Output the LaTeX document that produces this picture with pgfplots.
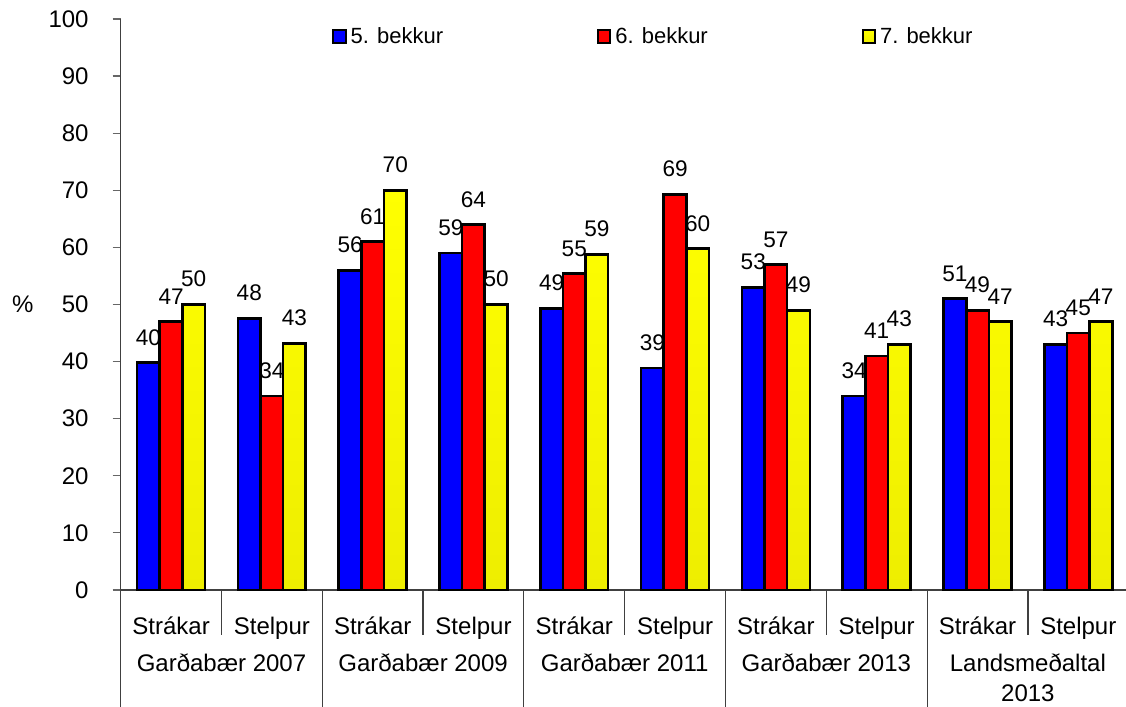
\documentclass[border=0pt]{standalone}
\usepackage{fontspec}
\setmainfont{Liberation Sans}
\usepackage{pgfplots}
\pgfplotsset{compat=1.18}
\definecolor{cblue}{RGB}{0,0,255}
\definecolor{cred}{RGB}{255,0,0}
\definecolor{cyel}{RGB}{255,255,0}
\definecolor{cyelb}{RGB}{238,238,0}
\begin{document}
\begin{tikzpicture}
\useasboundingbox (0,0) rectangle (563pt,353.5pt);
\begin{axis}[
 at={(60.35pt,58.5pt)}, anchor=south west,
 scale only axis, width=504pt, height=285.5pt,
 xmin=-0.5, xmax=9.5, ymin=0, ymax=100,
 axis x line*=bottom, axis y line*=left,
 axis line style={black!75, line width=0.6pt},
 ytick={0,10,...,100},
 ytick style={black!60, line width=0.6pt},
 tick align=outside, major tick length=4pt,
 xtick={0,...,9},
 xticklabels={Strákar,Stelpur,Strákar,Stelpur,Strákar,Stelpur,Strákar,Stelpur,Strákar,Stelpur},
 xtick style={draw=none},
 xticklabel style={anchor=base, yshift=-18.3pt, inner sep=0pt, font=\fontsize{12}{14}\selectfont},
 yticklabel style={anchor=east, inner sep=0pt, xshift=-11.85pt, font=\fontsize{12}{14}\selectfont},
 /pgf/number format/assume math mode=true,
 ybar=0pt, bar width=11.3pt,
 clip=false,
 nodes near coords={\pgfmathprintnumber[fixed,precision=0]{\pgfplotspointmeta}},
 every node near coord/.append style={anchor=base, yshift=8.75pt, inner sep=0pt, font=\fontsize{11.3}{13}\selectfont, black},
 legend columns=3,
 legend cell align=left,
 legend style={draw=none, fill=none, at={(rel axis cs:0.2096,0.969)}, anchor=west, inner sep=0pt, font=\fontsize{11}{13}\selectfont, /tikz/every even column/.append style={column sep=75pt}},
 legend image code/.code={\draw[#1, line width=0.9pt] (0pt,-3.2pt) rectangle (6.2pt,3.2pt);},
 ylabel={\%},
 every axis y label/.style={at={(rel axis cs:0,0.5)}, anchor=center, xshift=-49pt, font=\fontsize{12}{14}\selectfont},
]
\addplot[draw=black, line width=1.3pt, fill=cblue] coordinates {(0,39.8) (1,47.6) (2,56) (3,59) (4,49.3) (5,38.9) (6,53) (7,34) (8,51) (9,43)};
\addplot[draw=black, line width=1.3pt, fill=cred] coordinates {(0,47) (1,34) (2,61) (3,64) (4,55.4) (5,69.3) (6,57) (7,41) (8,49) (9,45)};
\addplot[draw=black, line width=1.3pt, top color=cyel, bottom color=cyelb] coordinates {(0,50) (1,43.2) (2,70) (3,50) (4,58.8) (5,59.8) (6,49) (7,43) (8,47) (9,47)};
\legend{5. bekkur,6. bekkur,7. bekkur}
\pgfplotsinvokeforeach{-0.5,1.5,3.5,5.5,7.5,9.5}{\draw[black!75, line width=0.6pt] (axis cs:#1,0) -- ([yshift=-58.5pt]axis cs:#1,0);}
\pgfplotsinvokeforeach{0.5,2.5,4.5,6.5,8.5}{\draw[black!75, line width=0.6pt] (axis cs:#1,0) -- ([yshift=-22.5pt]axis cs:#1,0);}
\node[anchor=base, inner sep=0pt, font=\fontsize{12}{14}\selectfont, yshift=-40.8pt] at (axis cs:0.5,0) {Garðabær 2007};
\node[anchor=base, inner sep=0pt, font=\fontsize{12}{14}\selectfont, yshift=-40.8pt] at (axis cs:2.5,0) {Garðabær 2009};
\node[anchor=base, inner sep=0pt, font=\fontsize{12}{14}\selectfont, yshift=-40.8pt] at (axis cs:4.5,0) {Garðabær 2011};
\node[anchor=base, inner sep=0pt, font=\fontsize{12}{14}\selectfont, yshift=-40.8pt] at (axis cs:6.5,0) {Garðabær 2013};
\node[anchor=base, inner sep=0pt, font=\fontsize{12}{14}\selectfont, yshift=-40.8pt] at (axis cs:8.5,0) {Landsmeðaltal};
\node[anchor=base, inner sep=0pt, font=\fontsize{12}{14}\selectfont, yshift=-56pt] at (axis cs:8.5,0) {2013};
\end{axis}
\end{tikzpicture}
\end{document}
